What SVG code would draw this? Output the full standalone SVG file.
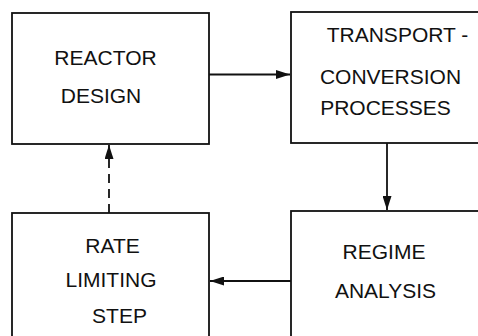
<svg xmlns="http://www.w3.org/2000/svg" width="478" height="336" viewBox="0 0 478 336">
  <style>
    .box { fill: #ffffff; stroke: #111111; stroke-width: 1.8; }
    .lbl { font-family: "Liberation Sans", Arial, sans-serif; font-size: 21px; fill: #111111; text-anchor: middle; }
    .wire { fill: none; stroke: #111111; stroke-width: 1.8; }
    .dash { stroke-dasharray: 9 6; }
  </style>
  <defs>
    <marker id="head" viewBox="0 0 14 9" refX="14" refY="4.5" markerWidth="14" markerHeight="9" markerUnits="userSpaceOnUse" orient="auto">
      <path d="M0,0 L14,4.5 L0,9 Z" fill="#111111"/>
    </marker>
  </defs>

  <g id="reactor-design">
    <rect class="box" x="12" y="13" width="197" height="131"/>
    <text class="lbl" x="105.5" y="64.5">REACTOR</text>
    <text class="lbl" x="101" y="103">DESIGN</text>
  </g>

  <g id="transport-conversion">
    <rect class="box" x="291" y="12" width="200" height="131"/>
    <text class="lbl" x="397.5" y="41.5">TRANSPORT -</text>
    <text class="lbl" x="390.5" y="84">CONVERSION</text>
    <text class="lbl" x="385.5" y="114.5">PROCESSES</text>
  </g>

  <g id="regime-analysis">
    <rect class="box" x="291" y="211" width="200" height="140"/>
    <text class="lbl" x="384" y="259">REGIME</text>
    <text class="lbl" x="385.5" y="298">ANALYSIS</text>
  </g>

  <g id="rate-limiting-step">
    <rect class="box" x="12" y="213" width="197" height="140"/>
    <text class="lbl" x="112.5" y="253">RATE</text>
    <text class="lbl" x="111" y="287">LIMITING</text>
    <text class="lbl" x="119.5" y="323">STEP</text>
  </g>

  <g id="connectors">
    <line class="wire" x1="209" y1="74.5" x2="290" y2="74.5" marker-end="url(#head)"/>
    <line class="wire" x1="387" y1="143" x2="387" y2="210" marker-end="url(#head)"/>
    <line class="wire" x1="291" y1="281" x2="210" y2="281" marker-end="url(#head)"/>
    <line class="wire dash" x1="109" y1="213" x2="109" y2="145" marker-end="url(#head)"/>
  </g>
</svg>
